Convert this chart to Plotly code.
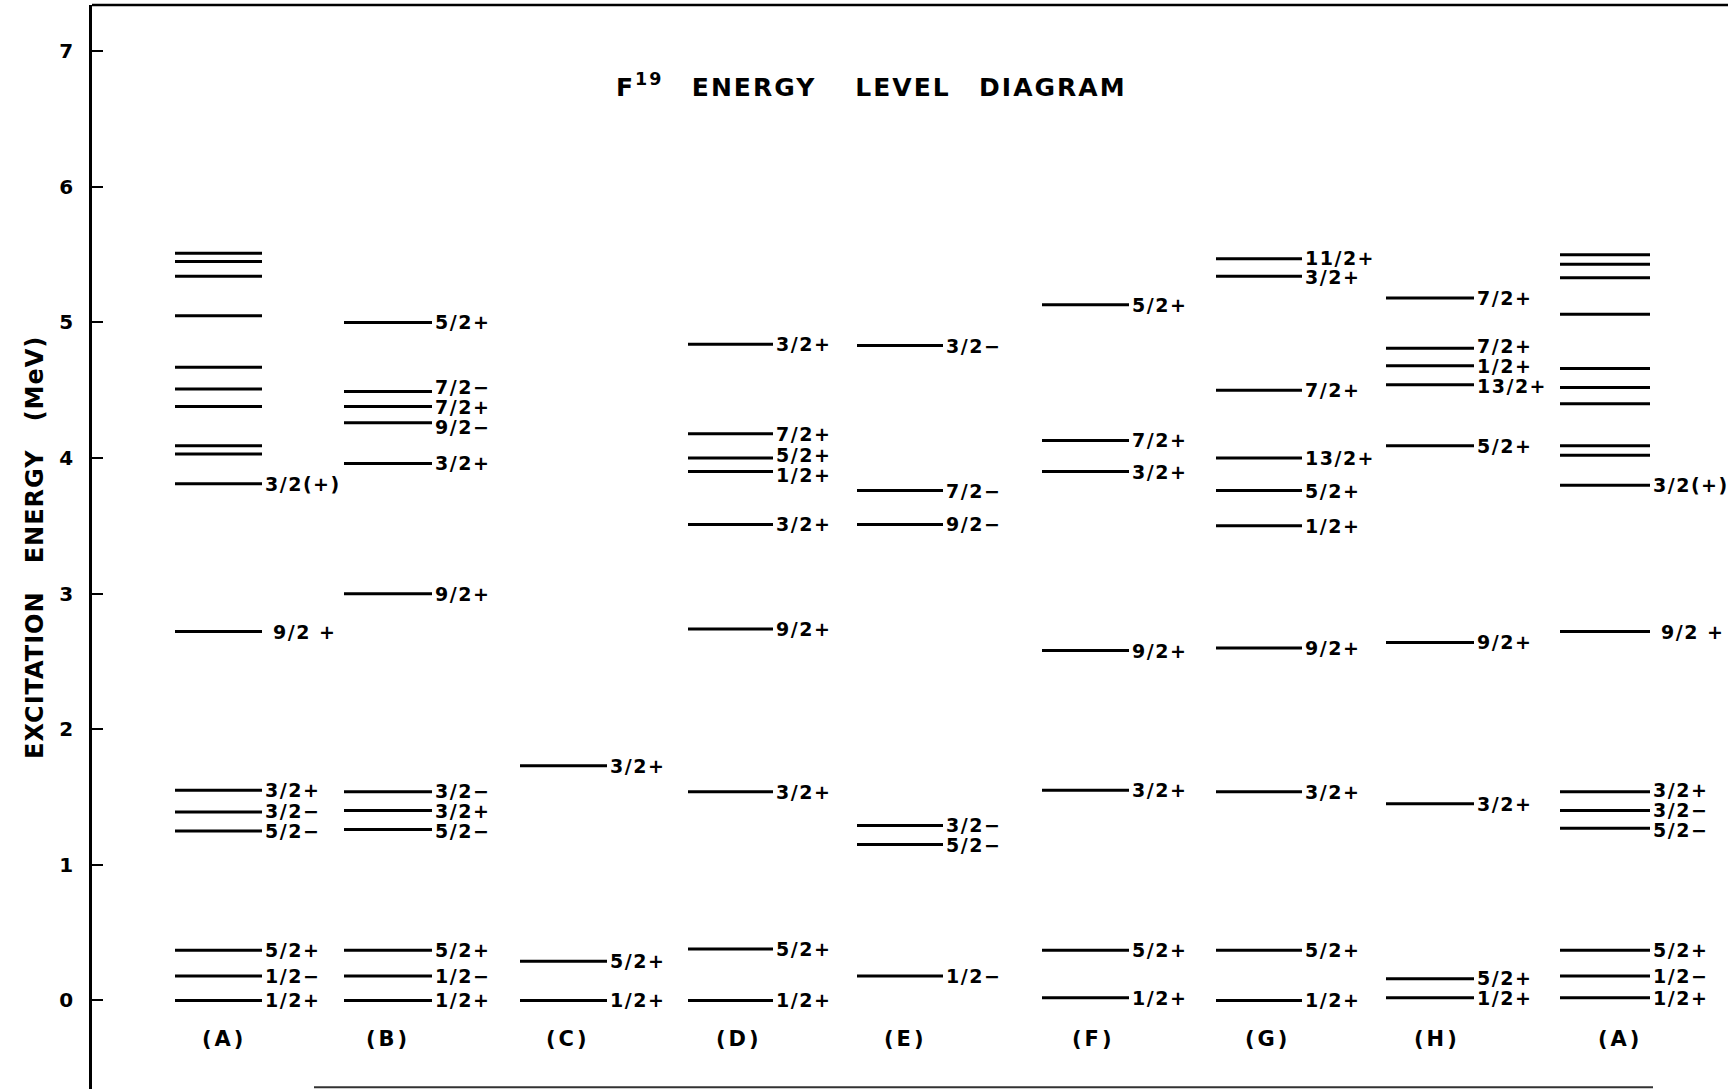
import plotly.graph_objects as go

# ---- level data (excitation energy in MeV, spin-parity labels) ----
columns = ["(A)", "(B)", "(C)", "(D)", "(E)", "(F)", "(G)", "(H)", "(A)"]

A_energy = [0.0, 0.18, 0.37, 1.25, 1.39, 1.55, 2.72, 3.81, 4.03, 4.09, 4.38, 4.51, 4.67, 5.05, 5.34, 5.45, 5.51]
A_spin = ["1/2+", "1/2−", "5/2+", "5/2−", "3/2−", "3/2+", "\u00a09/2 +", "3/2(+)", "", "", "", "", "", "", "", "", ""]

B_energy = [0.0, 0.18, 0.37, 1.26, 1.40, 1.54, 3.0, 3.96, 4.26, 4.38, 4.49, 5.0]
B_spin = ["1/2+", "1/2−", "5/2+", "5/2−", "3/2+", "3/2−", "9/2+", "3/2+", "9/2−", "7/2+", "7/2−", "5/2+"]

C_energy = [0.0, 0.29, 1.73]
C_spin = ["1/2+", "5/2+", "3/2+"]

D_energy = [0.0, 0.38, 1.54, 2.74, 3.51, 3.90, 4.0, 4.18, 4.84]
D_spin = ["1/2+", "5/2+", "3/2+", "9/2+", "3/2+", "1/2+", "5/2+", "7/2+", "3/2+"]

E_energy = [0.18, 1.15, 1.29, 3.51, 3.76, 4.83]
E_spin = ["1/2−", "5/2−", "3/2−", "9/2−", "7/2−", "3/2−"]

F_energy = [0.02, 0.37, 1.55, 2.58, 3.90, 4.13, 5.13]
F_spin = ["1/2+", "5/2+", "3/2+", "9/2+", "3/2+", "7/2+", "5/2+"]

G_energy = [0.0, 0.37, 1.54, 2.60, 3.50, 3.76, 4.0, 4.50, 5.34, 5.47]
G_spin = ["1/2+", "5/2+", "3/2+", "9/2+", "1/2+", "5/2+", "13/2+", "7/2+", "3/2+", "11/2+"]

H_energy = [0.02, 0.16, 1.45, 2.64, 4.09, 4.54, 4.68, 4.81, 5.18]
H_spin = ["1/2+", "5/2+", "3/2+", "9/2+", "5/2+", "13/2+", "1/2+", "7/2+", "7/2+"]

A2_energy = [0.02, 0.18, 0.37, 1.27, 1.40, 1.54, 2.72, 3.80, 4.02, 4.09, 4.40, 4.52, 4.66, 5.06, 5.33, 5.43, 5.50]
A2_spin = A_spin

y_ticks = [0, 1, 2, 3, 4, 5, 6, 7]

energies = [A_energy, B_energy, C_energy, D_energy, E_energy, F_energy, G_energy, H_energy, A2_energy]
spins = [A_spin, B_spin, C_spin, D_spin, E_spin, F_spin, G_spin, H_spin, A2_spin]

# ---- layout of the columns (horizontal extent of level bars, in x-axis units) ----
bar_span = [(175, 262), (344, 432), (520, 607), (688, 773), (857, 943),
            (1042, 1129), (1216, 1302), (1386, 1474), (1560, 1650)]
col_label_x = [224, 388, 568, 739, 905, 1093, 1267, 1437, 1620]

FONT = "DejaVu Sans"
W, H = 1728, 1091
ML, MR, MT, MB = 92, 0, 5, 2
Y_RANGE = [-0.653, 7.341]
LABEL_GAP = 0.147  # minimum vertical spacing between neighbouring spin labels (MeV)
NB, THIN = "\u00a0", "\u2009"


def spaced(text, px):
    """Wrap text in a span with extra letter spacing."""
    return f'<span style="letter-spacing:{px}px">{text}</span>'


def spread(vals, gap):
    """Label heights: level energies pushed apart so neighbours keep a minimum gap."""
    order = sorted(range(len(vals)), key=lambda i: vals[i])
    pos = [vals[i] for i in order]
    for _ in range(500):
        moved = False
        for k in range(len(pos) - 1):
            d = pos[k + 1] - pos[k]
            if d < gap - 1e-9:
                push = (gap - d) / 2
                pos[k] -= push
                pos[k + 1] += push
                moved = True
        if not moved:
            break
    out = [0.0] * len(vals)
    for j, i in enumerate(order):
        out[i] = pos[j]
    return out


fig = go.Figure()
annotations = []

for (x0, x1), ens, labs in zip(bar_span, energies, spins):
    xs, ys = [], []
    for e in ens:
        xs += [x0, x1, None]
        ys += [e, e, None]
    fig.add_trace(go.Scatter(x=xs, y=ys, mode="lines",
                             line=dict(color="black", width=3),
                             hoverinfo="skip", showlegend=False))
    labelled = [(e, lab) for e, lab in zip(ens, labs) if lab]
    ly = spread([e for e, _ in labelled], LABEL_GAP)
    for (e, lab), yl in zip(labelled, ly):
        annotations.append(dict(
            x=x1 + 1, y=yl, xref="x", yref="y", text=spaced(lab, 1.5), showarrow=False,
            xanchor="left", yanchor="middle",
            font=dict(family=FONT, size=19, color="black", weight="bold")))

for lx, name in zip(col_label_x, columns):
    annotations.append(dict(
        x=lx, y=-0.285, xref="x", yref="y", text=spaced(name, 3), showarrow=False,
        xanchor="center", yanchor="middle",
        font=dict(family=FONT, size=21, color="black", weight="bold")))

# title
title_text = ("F<sup>19</sup>" + NB * 2 + THIN + "ENERGY" + NB * 3 + THIN
              + "LEVEL" + NB * 2 + THIN + "DIAGRAM")
annotations.append(dict(
    x=614, y=6.745, xref="x", yref="y", xanchor="left", yanchor="middle",
    text=spaced(title_text, 2.0),
    showarrow=False, font=dict(family=FONT, size=25, color="black", weight="bold")))

# vertical axis title (placed in pixel terms, converted to paper coordinates)
pw, ph = W - ML - MR, H - MT - MB
annotations.append(dict(
    x=(35 - ML) / pw, y=(H - MB - 548) / ph, xref="paper", yref="paper",
    text=spaced("EXCITATION" + NB * 3 + "ENERGY" + NB * 3 + "(MeV)", 1),
    textangle=-90, showarrow=False, xanchor="center", yanchor="middle",
    font=dict(family=FONT, size=24, color="black", weight="bold")))

fig.update_layout(
    width=W, height=H,
    margin=dict(l=ML, r=MR, t=MT, b=MB),
    paper_bgcolor="white", plot_bgcolor="white",
    annotations=annotations,
    xaxis=dict(range=[ML, W], visible=False, fixedrange=True),
    yaxis=dict(range=Y_RANGE, tickvals=y_ticks, ticktext=[str(t) for t in y_ticks],
               ticks="inside", ticklen=11, tickwidth=2, tickcolor="black",
               showline=True, linewidth=2.5, linecolor="black",
               showgrid=False, zeroline=False, ticklabelstandoff=12,
               tickfont=dict(family=FONT, size=20, color="black", weight="bold")),
    shapes=[
        # top frame edge
        dict(type="line", xref="paper", yref="paper", x0=0, x1=1, y0=1, y1=1,
             line=dict(color="black", width=2.5)),
        # bottom frame edge
        dict(type="line", xref="x", yref="paper", x0=314, x1=1653, y0=0.0015, y1=0.0015,
             line=dict(color="#333333", width=2)),
    ],
)

fig.write_html("out.html")
